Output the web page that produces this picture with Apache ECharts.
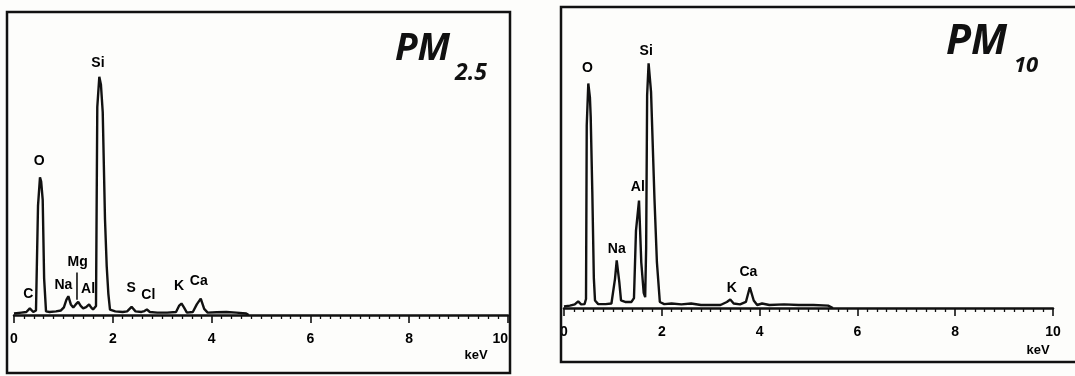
<!DOCTYPE html>
<html>
<head>
<meta charset="utf-8">
<script src="https://cdn.jsdelivr.net/npm/echarts@6/dist/echarts.min.js"></script>
<style>
html,body{margin:0;padding:0;background:#fdfdfb;}
#chart{width:1075px;height:376px;}
</style>
</head>
<body>
<div id="chart"></div>
<script>
// X axis tick values (keV)
const tickLabels = ['0', '2', '4', '6', '8', '10'];

// PM2.5 spectrum: [energy keV, counts (relative)]
const spectrumPM25 = [
  [0,0.5],[0.15,0.8],[0.25,1],[0.32,2.2],[0.39,1],[0.445,1.5],[0.486,36],[0.526,45.4],[0.55,44],[0.581,38],[0.61,12],[0.648,1.2],
  [0.72,1],[0.85,1.2],[0.95,1.5],[1.01,2.5],[1.06,5],[1.10,6.2],[1.15,3.5],[1.20,2.5],[1.25,3.5],[1.30,4.3],[1.35,3],[1.40,2.2],
  [1.46,2.6],[1.52,3.5],[1.56,2.5],[1.60,1.8],[1.66,3],[1.686,68.6],[1.727,78.6],[1.76,76],[1.796,67],[1.842,31.6],[1.877,16],
  [1.91,7],[1.943,1.8],[2.05,1.2],[2.2,1],[2.29,1.2],[2.38,2.7],[2.46,1.2],[2.58,1],[2.64,1.3],[2.69,1.8],[2.75,1],[2.9,0.8],
  [3.1,0.8],[3.28,1],[3.34,3],[3.39,3.8],[3.44,2.5],[3.50,0.8],[3.62,1],[3.70,3.5],[3.78,5.4],[3.85,2],[3.92,0.8],[4.1,0.9],
  [4.3,1],[4.5,0.8],[4.7,0.5],[4.75,0]
];

// PM10 spectrum: [energy keV, counts (relative)]
const spectrumPM10 = [
  [0,0.5],[0.12,0.8],[0.22,1.2],[0.29,2.2],[0.35,1.2],[0.42,1.3],[0.45,3],[0.465,60.7],[0.497,74.6],[0.53,70],[0.546,63.5],
  [0.579,38.5],[0.61,10],[0.634,2.5],[0.70,1.3],[0.85,1.3],[0.97,1.5],[1.00,2],[1.043,9.7],[1.078,15.8],[1.131,8.6],[1.166,2.5],
  [1.25,2],[1.38,2],[1.431,3.3],[1.472,25.7],[1.534,35.7],[1.58,15.2],[1.63,5],[1.66,3.6],[1.68,20],[1.70,70.7],[1.73,81.3],
  [1.78,71.8],[1.85,36.3],[1.90,15.2],[1.96,2],[2.05,1.3],[2.2,1.5],[2.4,1.2],[2.6,1.5],[2.8,1],[3.0,1],[3.2,1],[3.33,2],
  [3.40,2.8],[3.47,1.5],[3.60,1.2],[3.72,2],[3.80,6.9],[3.88,2.5],[3.95,1],[4.05,1.5],[4.2,1],[4.5,1.2],[4.8,1],[5.1,1],
  [5.4,0.8],[5.5,0]
];

// Element labels: name, energy (keV), label height (counts)
const elementsPM25 = ['C', 'O', 'Na', 'Mg', 'Al', 'Si', 'S', 'Cl', 'K', 'Ca'];
const labelKeVPM25 = [0.29, 0.51, 1.00, 1.29, 1.50, 1.70, 2.37, 2.72, 3.34, 3.74];
const labelHPM25 = [6.8, 50.8, 9.8, 17.5, 8.4, 83, 8.8, 6.7, 9.5, 11.1];

const elementsPM10 = ['O', 'Na', 'Al', 'Si', 'K', 'Ca'];
const labelKeVPM10 = [0.48, 1.08, 1.51, 1.68, 3.43, 3.77];
const labelHPM10 = [79.6, 19.7, 40, 85.5, 6.6, 11.9];

// Mg marker line (keV, from-to counts)
const mgMarker = [[1.275, 5], [1.275, 14]];

const panelTitles = ['PM', 'PM'];
const panelSubs = ['2.5', '10'];

function labelData(names, xs, ys) {
  return names.map((n, i) => ({ name: n, value: [xs[i], ys[i]] }));
}

const axisFont = 'Liberation Sans, Arial, sans-serif';

function makeX(idx, alignMax) {
  return {
    type: 'value', gridIndex: idx, min: 0, max: 10, interval: 2,
    axisLine: { show: true, onZero: false, lineStyle: { color: '#111', width: 2.5 } },
    axisTick: { show: true, inside: false, length: 8, lineStyle: { color: '#111', width: 1.6 } },
    minorTick: { show: true, splitNumber: 10, length: 4, lineStyle: { color: '#111', width: 1.3 } },
    splitLine: { show: false },
    axisLabel: {
      margin: 17, color: '#000', fontSize: 14, fontWeight: 'bold', fontFamily: axisFont,
      alignMaxLabel: alignMax,
      formatter: v => tickLabels[Math.round(v / 2)]
    }
  };
}
function makeY(idx) {
  return { type: 'value', gridIndex: idx, min: 0, max: 100, show: false, splitLine: { show: false } };
}

function labelSeries(idx, names, xs, ys) {
  return {
    type: 'scatter', xAxisIndex: idx, yAxisIndex: idx, symbolSize: 0, silent: true,
    itemStyle: { opacity: 1 },
    data: labelData(names, xs, ys),
    label: {
      show: true, position: 'inside', formatter: '{b}', color: '#000', opacity: 1,
      fontSize: 14, fontWeight: 'bold', fontFamily: axisFont
    }
  };
}

const chart = echarts.init(document.getElementById('chart'));
chart.setOption({
  animation: false,
  backgroundColor: '#fdfdfb',
  grid: [
    { left: 14, width: 494, top: 12, bottom: 61 },
    { left: 564, width: 489, top: 7, bottom: 68 }
  ],
  xAxis: [makeX(0, 'right'), makeX(1, 'center')],
  yAxis: [makeY(0), makeY(1)],
  series: [
    { type: 'line', xAxisIndex: 0, yAxisIndex: 0, data: spectrumPM25, showSymbol: false,
      lineStyle: { color: '#111', width: 2.4 }, z: 3 },
    { type: 'line', xAxisIndex: 1, yAxisIndex: 1, data: spectrumPM10, showSymbol: false,
      lineStyle: { color: '#111', width: 2.4 }, z: 3 },
    { type: 'line', xAxisIndex: 0, yAxisIndex: 0, data: mgMarker, showSymbol: false,
      lineStyle: { color: '#111', width: 1.6 } },
    labelSeries(0, elementsPM25, labelKeVPM25, labelHPM25),
    labelSeries(1, elementsPM10, labelKeVPM10, labelHPM10)
  ],
  graphic: [
    { type: 'rect', shape: { x: 7, y: 12, width: 503, height: 361 },
      style: { fill: 'none', stroke: '#111', lineWidth: 2.5 }, z: 10 },
    { type: 'rect', shape: { x: 561, y: 7, width: 530, height: 355 },
      style: { fill: 'none', stroke: '#111', lineWidth: 2.5 }, z: 10 },
    { type: 'text', x: 476, y: 355, style: { text: 'keV', font: 'bold 13px ' + axisFont, fill: '#000', align: 'center', verticalAlign: 'middle' } },
    { type: 'text', x: 1038, y: 350, style: { text: 'keV', font: 'bold 13px ' + axisFont, fill: '#000', align: 'center', verticalAlign: 'middle' } },
    { type: 'text', x: 395, y: 49, style: { text: panelTitles[0], font: 'italic bold 37px "Open Sans"', fill: '#111', align: 'left', verticalAlign: 'middle' } },
    { type: 'text', x: 455, y: 73, style: { text: panelSubs[0], font: 'italic bold 23px "Open Sans"', fill: '#111', align: 'left', verticalAlign: 'middle' } },
    { type: 'text', x: 946, y: 42, style: { text: panelTitles[1], font: 'italic bold 41px "Open Sans"', fill: '#111', align: 'left', verticalAlign: 'middle' } },
    { type: 'text', x: 1014, y: 66, style: { text: panelSubs[1], font: 'italic bold 22px "Open Sans"', fill: '#111', align: 'left', verticalAlign: 'middle' } }
  ]
});
</script>
</body>
</html>
